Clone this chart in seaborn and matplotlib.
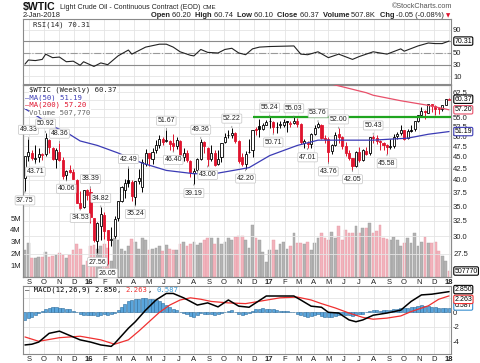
import numpy as np
import pandas as pd
import matplotlib
matplotlib.use("Agg")
import matplotlib.pyplot as plt
import seaborn as sns

# ---- data (weekly bars, Monday dates) ----
weeks = pd.date_range("2015-08-24", periods=124, freq="7D")

opens = [40.40, 45.30, 46.00, 44.60, 45.00, 45.50, 45.60, 49.00, 47.00, 44.60,
         46.20, 44.20, 41.00, 42.00, 41.60, 40.00, 35.50, 34.80, 38.00, 37.60,
         32.90, 29.30, 31.70, 33.50, 31.00, 29.40, 30.00, 32.90, 35.90, 38.00,
         39.90, 39.50, 36.60, 39.80, 38.50, 43.50, 45.90, 44.50, 46.50, 47.90,
         49.30, 48.70, 48.90, 48.40, 47.50, 48.90, 45.00, 46.00, 44.10, 41.40,
         42.00, 44.50, 48.50, 47.00, 44.50, 46.00, 43.30, 44.90, 48.60, 50.30,
         50.30, 50.70, 48.70, 44.90, 43.40, 46.20, 46.50, 51.80, 52.70, 51.90,
         53.00, 54.00, 53.80, 52.30, 52.80, 52.90, 53.90, 53.20, 53.40, 54.00,
         53.20, 48.40, 48.40, 48.00, 50.60, 52.30, 53.00, 49.60, 49.40, 46.30,
         47.90, 50.50, 49.70, 47.50, 45.90, 44.70, 43.00, 46.10, 44.30, 46.40,
         45.80, 49.70, 49.60, 48.90, 48.40, 47.90, 47.30, 47.60, 50.00, 50.80,
         51.50, 49.60, 51.50, 51.80, 53.90, 55.70, 56.80, 56.40, 58.80, 58.20,
         57.70, 57.50, 58.60, 60.20]
highs = [45.30, 49.33, 46.60, 47.70, 47.00, 46.00, 50.92, 49.30, 47.40, 47.00,
         48.36, 45.00, 42.00, 43.20, 42.20, 40.30, 37.90, 38.10, 38.30, 38.39,
         33.00, 32.30, 34.82, 33.90, 31.00, 31.50, 33.30, 36.00, 38.80, 40.20,
         42.49, 39.90, 39.80, 42.40, 44.50, 46.80, 46.00, 47.20, 49.00, 50.20,
         49.80, 51.67, 49.00, 50.50, 49.90, 49.00, 47.00, 46.70, 44.30, 42.50,
         44.80, 49.36, 48.80, 47.30, 47.80, 46.60, 46.60, 48.30, 50.70, 51.60,
         52.22, 51.00, 49.10, 45.90, 46.40, 49.20, 51.70, 52.40, 54.51, 53.40,
         54.30, 55.24, 53.90, 53.70, 54.00, 54.50, 54.00, 53.90, 55.03, 54.80,
         53.40, 49.20, 48.70, 50.80, 52.90, 53.76, 53.10, 50.20, 49.70, 48.10,
         51.00, 52.00, 50.00, 48.60, 46.60, 44.80, 46.40, 47.30, 46.80, 47.40,
         49.80, 50.43, 50.20, 49.00, 48.50, 48.00, 49.40, 50.50, 51.00, 52.90,
         51.50, 51.80, 52.80, 54.00, 55.70, 57.90, 57.10, 59.05, 59.00, 58.50,
         58.10, 58.60, 60.50, 60.74]
lows = [37.75, 44.00, 44.20, 43.71, 43.90, 44.20, 45.30, 45.90, 44.20, 42.60,
        44.00, 40.30, 40.06, 41.40, 40.10, 35.60, 34.53, 34.60, 36.20, 32.10,
        29.13, 27.56, 29.50, 29.60, 26.05, 28.60, 29.80, 32.40, 35.70, 36.50,
        38.60, 36.00, 35.24, 39.20, 37.60, 42.90, 43.00, 43.40, 46.00, 47.10,
        47.80, 48.50, 46.70, 46.40, 46.80, 44.80, 44.10, 43.80, 40.60, 39.19,
        41.60, 44.30, 46.00, 43.00, 44.00, 43.05, 43.10, 43.80, 48.30, 49.60,
        49.60, 48.30, 43.60, 43.00, 42.20, 45.90, 45.00, 50.30, 49.90, 51.60,
        53.00, 52.10, 50.71, 50.90, 52.00, 52.40, 51.20, 52.50, 53.20, 52.50,
        48.10, 47.10, 47.01, 47.10, 50.20, 52.10, 49.30, 48.20, 43.76, 45.60,
        47.60, 48.20, 46.90, 45.20, 44.20, 42.05, 42.80, 43.80, 44.10, 45.40,
        45.40, 48.40, 48.00, 46.50, 46.50, 45.58, 46.90, 47.10, 49.20, 50.40,
        49.10, 49.40, 51.10, 51.40, 53.80, 55.40, 54.50, 56.20, 56.70, 55.80,
        56.10, 56.80, 58.50, 60.10]
closes = [45.22, 46.05, 44.63, 44.68, 45.70, 45.54, 49.63, 47.26, 44.60, 46.59,
          44.29, 40.74, 41.90, 41.71, 40.14, 35.62, 34.73, 38.10, 37.04, 33.16,
          29.42, 32.19, 33.62, 30.89, 29.44, 29.64, 32.78, 35.92, 38.50, 39.44,
          39.46, 36.79, 39.72, 40.36, 43.73, 45.92, 44.66, 46.21, 47.75, 49.33,
          48.62, 49.07, 47.98, 47.64, 48.99, 45.41, 45.95, 44.19, 41.60, 41.80,
          44.49, 48.52, 47.64, 44.44, 45.88, 43.20, 44.48, 48.24, 49.81, 50.35,
          50.85, 48.70, 44.07, 43.41, 45.69, 46.06, 51.68, 51.50, 51.90, 53.02,
          53.72, 53.99, 52.37, 52.42, 53.17, 53.83, 53.86, 53.40, 53.99, 53.33,
          48.49, 48.78, 47.97, 50.60, 52.24, 53.18, 49.62, 49.33, 46.22, 47.84,
          50.33, 49.80, 47.66, 45.83, 44.74, 43.01, 46.04, 44.23, 46.54, 45.77,
          49.71, 49.58, 48.82, 48.51, 47.87, 47.29, 47.48, 49.89, 50.66, 51.67,
          49.29, 51.45, 51.47, 53.90, 55.64, 56.74, 56.55, 58.95, 58.36, 57.36,
          57.30, 58.47, 60.42, 60.37]
volume_m = [2.3, 2.9, 1.6, 1.6, 1.7, 1.7, 2.1, 1.7, 1.8, 1.9, 2.0, 1.9, 1.6, 1.9,
            2.3, 2.8, 2.4, 1.0, 1.4, 2.6, 2.7, 2.4, 2.6, 2.8, 2.5, 1.4, 3.3, 3.1,
            2.4, 2.2, 2.6, 3.2, 3.0, 2.4, 3.3, 3.1, 2.3, 2.4, 2.5, 2.6, 2.2, 2.7,
            2.4, 2.3, 2.3, 2.8, 3.0, 2.6, 2.8, 3.0, 2.7, 2.9, 3.1, 3.3, 3.3, 2.8,
            3.3, 2.8, 3.0, 3.3, 3.1, 3.4, 3.5, 3.5, 3.1, 2.5, 4.4, 3.35, 3.1, 2.1,
            1.3, 2.3, 3.1, 2.3, 2.8, 3.0, 2.4, 2.6, 3.7, 2.9, 2.9, 2.8, 3.0, 2.3,
            2.9, 3.3, 3.7, 3.3, 3.1, 3.8, 3.3, 4.3, 3.1, 4.0, 3.7, 3.7, 4.3, 3.7,
            4.2, 4.2, 4.6, 3.7, 3.9, 4.4, 3.3, 3.2, 3.1, 3.4, 3.1, 2.6, 2.9, 3.3,
            2.9, 3.7, 2.6, 3.0, 3.4, 2.9, 2.9, 3.0, 2.2, 1.8, 1.4, 0.51]

# moving averages (week index, value)
ma50_wk = [0, 4, 7, 12, 16, 21, 27, 34, 41, 49, 55, 62, 65, 71, 79, 85, 94, 101, 111, 117, 123]
ma50_val = [57.5, 55.1, 53.0, 51.0, 48.8, 47.7, 45.9, 43.6, 42.0, 41.3, 41.3, 42.2, 42.6,
            45.3, 47.7, 49.0, 49.0, 49.0, 49.5, 50.5, 51.19]
ma200_wk = [86, 90, 99, 101, 109, 117, 123]
ma200_val = [66.0, 64.9, 62.4, 61.6, 59.9, 58.5, 57.20]

rsi_wk = [0, 1, 3, 5, 6, 8, 10, 12, 14, 16, 17, 20, 22, 24, 27, 30, 31, 35, 39, 41, 43,
          45, 48, 49, 51, 53, 56, 58, 60, 62, 64, 66, 68, 71, 78, 80, 82, 85, 88, 91,
          95, 97, 101, 105, 109, 110, 114, 117, 119, 121, 123]
rsi_val = [31, 38, 37, 39, 48, 42, 43, 35, 36, 29, 35, 27, 33, 30, 45, 55, 48, 60, 65, 65,
           60, 52, 46, 45, 56, 51, 50, 56, 58, 50, 47, 57, 60, 61, 62, 48, 47, 52, 42, 48,
           39, 44, 52, 48, 57, 53, 62, 67, 66, 66, 70.31]

macd_wk = [0, 2, 4, 7, 10, 12, 16, 19, 22, 25, 26, 30, 32, 35, 38, 41, 43, 46, 50, 53, 56,
           59, 62, 65, 70, 78, 80, 83, 86, 88, 91, 94, 96, 98, 101, 105, 109, 112, 115,
           118, 123]
macd_val = [-4.5, -4.4, -4.1, -2.9, -2.6, -3.0, -3.8, -4.1, -4.5, -4.7, -4.3, -2.2, -1.3,
            0.3, 1.7, 2.6, 2.6, 2.0, 1.0, 1.3, 0.75, 1.7, 0.85, 0.7, 2.25, 2.25, 1.7, 0.85,
            0.7, 0.0, -0.1, -1.05, -1.3, -1.05, -0.4, -0.1, 0.3, 1.5, 2.4, 2.5, 2.85]
signal_wk = [0, 4, 10, 16, 22, 26, 30, 33, 36, 39, 42, 45, 48, 51, 54, 59, 64, 69, 74, 79,
             83, 86, 90, 94, 98, 101, 105, 109, 112, 117, 120, 123]
signal_val = [-3.4, -4.0, -3.5, -3.3, -3.8, -4.4, -3.8, -2.6, -1.3, 0.0, 1.0, 1.7, 2.0,
              1.8, 1.5, 1.3, 1.2, 1.6, 2.0, 2.1, 1.7, 1.2, 0.6, -0.1, -0.7, -0.95, -0.8,
              -0.5, 0.1, 0.9, 1.8, 2.263]
macd_hist = [-1.05, -0.8, -0.6, -0.4, -0.1, 0.2, 0.5, 0.65, 0.7, 0.7, 0.65, 0.6, 0.5, 0.4,
             0.2, 0.0, -0.2, -0.35, -0.4, -0.35, -0.4, -0.45, -0.4, -0.3, -0.35, -0.3,
             -0.1, 0.3, 0.8, 1.2, 1.5, 1.7, 1.8, 1.9, 2.0, 2.0, 1.9, 1.8, 1.7, 1.5, 1.3,
             1.0, 0.8, 0.5, 0.3, 0.1, -0.1, -0.3, -0.5, -0.6, -0.4, -0.1, -0.2, -0.3,
             -0.3, -0.4, -0.3, -0.1, 0.1, 0.2, 0.3, 0.1, -0.2, -0.4, -0.3, -0.1, 0.2, 0.4,
             0.5, 0.55, 0.5, 0.45, 0.4, 0.3, 0.25, 0.2, 0.15, 0.1, 0.1, -0.2, -0.4, -0.5,
             -0.6, -0.5, -0.4, -0.3, -0.45, -0.6, -0.7, -0.6, -0.5, -0.4, -0.3, -0.35,
             -0.4, -0.45, -0.4, -0.3, -0.2, 0.0, 0.2, 0.3, 0.3, 0.25, 0.3, 0.35, 0.35, 0.4,
             0.5, 0.6, 0.55, 0.6, 0.7, 0.8, 0.9, 0.95, 0.9, 0.85, 0.8, 0.7, 0.65, 0.6, 0.6,
             0.587]

# swing labels: week index, price, high/low
swing_wk = [0, 1, 3, 6, 10, 12, 16, 19, 21, 22, 24, 30, 32, 41, 43, 49, 51, 53, 60, 64,
            71, 72, 78, 82, 85, 88, 91, 95, 101, 105]
swing_px = [37.75, 49.33, 43.71, 50.92, 48.36, 40.06, 34.53, 38.39, 27.56, 34.82, 26.05,
            42.49, 35.24, 51.67, 46.40, 39.19, 49.36, 43.00, 52.22, 42.20, 55.24, 50.71,
            55.03, 47.01, 53.76, 43.76, 52.00, 42.05, 50.43, 45.58]
swing_kind = ["L", "H", "L", "H", "H", "L", "L", "H", "L", "H", "L", "H", "L", "H", "L",
              "L", "H", "L", "H", "L", "H", "L", "H", "L", "H", "L", "H", "L", "H", "L"]

month_starts = pd.date_range("2015-09-01", "2018-01-01", freq="MS")
month_labels = ["S", "O", "N", "D", "16", "F", "M", "A", "M", "J", "J", "A", "S", "O",
                "N", "D", "17", "F", "M", "A", "M", "J", "J", "A", "S", "O", "N", "D", "18"]

price_ticks = [27.5, 30.0, 32.5, 35.0, 37.5, 40.0, 42.5, 45.0, 47.5, 50.0, 52.5, 55.0,
               57.5, 60.0, 62.5]
price_hidden = [57.5, 60.0]
vol_ticks = [1, 2, 3, 4, 5]
rsi_ticks = [10, 30, 50, 70, 90]
macd_ticks = [-4, -2, 0, 2]

# ---- style ----
sns.set_style("white")
plt.rcParams["font.family"] = ["Liberation Sans", "DejaVu Sans"]
MONO = "DejaVu Sans Mono"
RED = "#e0142e"
BLUE = "#3b3bb5"
GRID = "#e4e4e4"
SPINE = "#8a8a8a"
W, H = 480.0, 363.0

fig = plt.figure(figsize=(4.8, 3.63), dpi=100)
L, R = 23 / W, (451 - 23) / W
ax_rsi = fig.add_axes([L, 1 - 84 / H, R, 65 / H])
ax_px = fig.add_axes([L, 1 - 277 / H, R, 192 / H])
ax_vol = ax_px.twinx()
ax_macd = fig.add_axes([L, 1 - 354 / H, R, 68 / H])
ax_px.set_zorder(ax_vol.get_zorder() + 1)
ax_px.patch.set_visible(False)

xlim = (pd.Timestamp("2015-08-20"), pd.Timestamp("2018-01-05"))
for ax in (ax_rsi, ax_px, ax_vol, ax_macd):
    ax.set_xlim(xlim)
    for s in ax.spines.values():
        s.set_color(SPINE)
        s.set_linewidth(0.8)
for ax in (ax_rsi, ax_px, ax_macd):
    ax.set_xticks(month_starts)
    ax.grid(True, color=GRID, lw=0.6)
    ax.set_axisbelow(True)
    ax.tick_params(length=0, labelsize=5.5, pad=1.5, colors="#222222")
    ax.yaxis.tick_right()
ax_rsi.set_xticklabels([])
for ax in (ax_px, ax_macd):
    ax.set_xticklabels(month_labels)
    for t, lab in zip(ax.get_xticklabels(), month_labels):
        if lab.isdigit():
            t.set_fontweight("bold")


def tag(ax, y, text, edge, dy=0, xycoords=("axes fraction", "data")):
    ax.annotate(text, xy=(1, y), xycoords=xycoords, xytext=(2.5, dy),
                textcoords="offset points", ha="left", va="center", fontsize=5,
                color="black", annotation_clip=False, zorder=10,
                bbox=dict(boxstyle="round,pad=0.1,rounding_size=0.2", fc="white",
                          ec=edge, lw=0.8))


def fig_px(x, y, s, **kw):
    kw.setdefault("va", "center")
    return fig.text(x / W, 1 - y / H, s, **kw)


# ---- RSI panel ----
rsi_df = pd.DataFrame({"date": weeks[rsi_wk], "rsi": rsi_val})
ax_rsi.set_ylim(-3, 108)
ax_rsi.set_yticks(rsi_ticks)
ax_rsi.set_yticklabels(["10", "30", "50", "", "90"])
ax_rsi.axhline(70, color="#8c8c8c", lw=0.8)
ax_rsi.axhline(30, color="#8c8c8c", lw=0.8)
ax_rsi.axhline(50, color="#9a9a9a", lw=0.8, ls="-.")
sns.lineplot(data=rsi_df, x="date", y="rsi", ax=ax_rsi, color="#222222", lw=0.8)
ax_rsi.set_xlabel("")
ax_rsi.set_ylabel("")
tag(ax_rsi, 70.31, "70.31", "black")

# ---- price panel ----
closes_a = np.array(closes)
opens_a = np.array(opens)
prev = np.r_[opens_a[0], closes_a[:-1]]
down = closes_a < prev
edge = np.where(down, RED, "black")
face = np.where(closes_a > opens_a, "white", edge)
vol_col = np.where(down, "#f2b3bc", "#b3b3b3")
vol_edge = np.where(down, "#e59aa6", "#9a9a9a")

ax_vol.bar(weeks, volume_m, width=5.6, color=vol_col, edgecolor=vol_edge, lw=0.3)
ax_vol.set_ylim(0, 16.3)
ax_vol.yaxis.tick_left()
ax_vol.set_yticks(vol_ticks)
ax_vol.set_yticklabels([f"{v}M" for v in vol_ticks])
ax_vol.tick_params(length=0, labelsize=5.5, pad=1.5, colors="#222222")
ax_vol.grid(False)
tag(ax_vol, 0.50777, "507770", "black")

ax_px.set_yscale("log")
ax_px.set_ylim(24.4, 64.9)
ax_px.set_yticks(price_ticks)
ax_px.set_yticklabels(["" if p in price_hidden else f"{p:.1f}" for p in price_ticks])
ax_px.yaxis.set_minor_locator(matplotlib.ticker.NullLocator())

ax_px.vlines(weeks, lows, highs, colors=edge, lw=0.7, zorder=3)
body = np.maximum(np.abs(closes_a - opens_a), 0.06)
ax_px.bar(weeks, body, bottom=np.minimum(opens_a, closes_a), width=4.2,
          color=face, edgecolor=edge, lw=0.6, zorder=4)

ma50_df = pd.DataFrame({"date": weeks[ma50_wk], "ma": ma50_val})
ma200_df = pd.DataFrame({"date": weeks[ma200_wk], "ma": ma200_val})
sns.lineplot(data=ma50_df, x="date", y="ma", ax=ax_px, color=BLUE, lw=0.9, zorder=5)
sns.lineplot(data=ma200_df, x="date", y="ma", ax=ax_px, color="#e8506a", lw=0.9, zorder=5)
ax_px.hlines(55.0, weeks[66], xlim[1], color="#1fa51f", lw=1.6, zorder=6)
ax_px.set_xlabel("")
ax_px.set_ylabel("")

for wk, px, kind in zip(swing_wk, swing_px, swing_kind):
    hi = kind == "H"
    ax_px.annotate(f"{px:.2f}", xy=(weeks[wk], px), xytext=(0, 4 if hi else -4),
                   textcoords="offset points", ha="center",
                   va="bottom" if hi else "top", fontsize=5, color="#222222", zorder=8,
                   bbox=dict(boxstyle="round,pad=0.15", fc="white", ec="#c4c4c4", lw=0.5),
                   arrowprops=dict(arrowstyle="-", color="#777777", lw=0.5))

tag(ax_px, 60.37, "60.37", "black")
tag(ax_px, 57.20, "57.20", "#e8506a")
tag(ax_px, 51.19, "51.19", BLUE)

# ---- MACD panel ----
ax_macd.bar(weeks, macd_hist, width=6.2, color="#59a5dc", edgecolor="#2d6c9c", lw=0.4)
macd_df = pd.DataFrame({"date": weeks[macd_wk], "v": macd_val})
sig_df = pd.DataFrame({"date": weeks[signal_wk], "v": signal_val})
sns.lineplot(data=sig_df, x="date", y="v", ax=ax_macd, color="#f03030", lw=0.9)
sns.lineplot(data=macd_df, x="date", y="v", ax=ax_macd, color="black", lw=1.1)
ax_macd.set_ylim(-5.75, 3.63)
ax_macd.set_yticks(macd_ticks)
ax_macd.set_yticklabels(["-4", "-2", "0", ""])
ax_macd.set_xlabel("")
ax_macd.set_ylabel("")
tag(ax_macd, 0.587, "0.587", "#3a8fd0", dy=1.5)
tag(ax_macd, 2.263, "2.263", "#f03030", dy=-2.5)
tag(ax_macd, 2.850, "2.850", "black", dy=1.5)

# ---- legends & header ----
lg = dict(fontsize=5.2, family=MONO)
fig_px(33, 25, "RSI(14) 70.31", color="#222222", **lg)
fig_px(29, 90, "$WTIC (Weekly) 60.37", color="#222222",
       bbox=dict(fc="white", ec="none", pad=0.2), **lg)
fig_px(25, 97.5, "\u2014MA(50) 51.19", color=BLUE,
       bbox=dict(fc="white", ec="none", pad=0.2), **lg)
fig_px(25, 105, "\u2014MA(200) 57.20", color=RED,
       bbox=dict(fc="white", ec="none", pad=0.2), **lg)
fig_px(29, 112.5, "Volume 507,770", color="#666666",
       bbox=dict(fc="white", ec="none", pad=0.2), **lg)

fig.canvas.draw()
rend = fig.canvas.get_renderer()


def run_text(x, y, pieces, align="left", **kw):
    texts = [fig_px(0, y, s, **style, **kw) for s, style in pieces]
    widths = [t.get_window_extent(renderer=rend).width for t in texts]
    if align == "right":
        x -= sum(widths)
    for t, w in zip(texts, widths):
        t.set_x(x / W)
        x += w
    return x


run_text(25, 290, [("\u2014 MACD(12,26,9) 2.850", {"color": "black"}),
                   (", ", {"color": "black"}), ("2.263", {"color": "#f03030"}),
                   (", ", {"color": "black"}), ("0.587", {"color": "#3a9ad6"})], **lg)

x_end = run_text(23, 7, [("$WTIC", {"fontsize": 7.6, "fontweight": "bold",
                                    "color": "#111111"})])
x_end = run_text(x_end + 4, 7.5, [("Light Crude Oil - Continuous Contract (EOD) ", {})],
                 fontsize=5.0, color="#222222")
fig_px(x_end + 1, 7.5, "CME", fontsize=4.4, color="#222222")
fig_px(452, 7, "\u00a9StockCharts.com", fontsize=5.2, color="#555555", ha="right")
fig_px(23, 15.5, "2-Jan-2018", fontsize=5.4, color="#222222")

hdr = [("Open ", {"fontweight": "bold"}), ("60.20  ", {}), ("High ", {"fontweight": "bold"}),
       ("60.74  ", {}), ("Low ", {"fontweight": "bold"}), ("60.10  ", {}),
       ("Close ", {"fontweight": "bold"}), ("60.37  ", {}),
       ("Volume ", {"fontweight": "bold"}), ("507.8K  ", {}),
       ("Chg ", {"fontweight": "bold"}), ("-0.05 (-0.08%)", {})]
run_text(444, 15.5, hdr, align="right", fontsize=5.4, color="#222222")
fig_px(446, 15.5, "\u25bc", fontsize=4, color=RED, family="DejaVu Sans")

fig.savefig("out.png", dpi=100)
